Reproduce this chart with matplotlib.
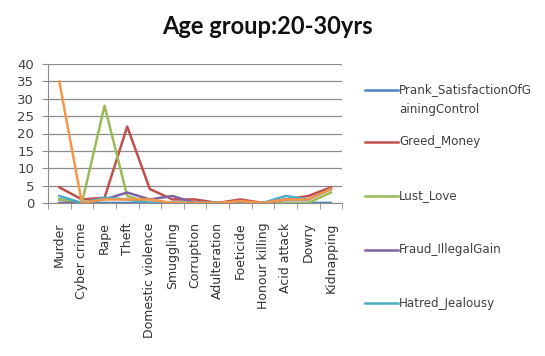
import matplotlib
matplotlib.use('Agg')
import matplotlib.pyplot as plt
from matplotlib.lines import Line2D

plt.rcParams['font.family'] = ['Lato', 'DejaVu Sans']

crimes = ['Murder', 'Cyber crime', 'Rape', 'Theft', 'Domestic violence', 'Smuggling',
          'Corruption', 'Adulteration', 'Foeticide', 'Honour killing', 'Acid attack',
          'Dowry', 'Kidnapping']

# motive counts per crime, age group 20-30
prank = [1, 0, 0, 0, 0, 0, 0, 0, 0, 0, 0, 0, 0]
greed = [4.5, 1, 1.5, 22, 4, 1, 1, 0, 1, 0, 1, 2, 4.5]
lust = [1, 0, 28, 2, 0, 0, 0, 0, 0, 0, 0, 0, 3]
fraud = [0, 0, 1, 3, 1, 2, 0, 0, 0, 0, 1, 1, 4]
hatred = [2, 0, 1.5, 1, 0, 0, 0, 0, 0, 0, 2, 1, 4]
anger = [35, 0, 1, 1, 1, 0, 0, 0, 0.5, 0, 1, 1, 4]

series = [
    ('Prank_SatisfactionOfG\nainingControl', prank, '#4F81BD'),
    ('Greed_Money', greed, '#C0504D'),
    ('Lust_Love', lust, '#9BBB59'),
    ('Fraud_IllegalGain', fraud, '#8064A2'),
    ('Hatred_Jealousy', hatred, '#4BACC6'),
]

fig = plt.figure(figsize=(5.45, 3.56), dpi=100)
ax = fig.add_axes([0.088, 0.430, 0.540, 0.390])

x = list(range(len(crimes)))
for name, vals, col in series:
    ax.plot(x, vals, color=col, lw=1.8, solid_joinstyle='round')
ax.plot(x, anger, color='#F79646', lw=1.8, solid_joinstyle='round')

ax.set_xlim(-0.5, len(crimes) - 0.5)
ax.set_ylim(0, 40)
ax.set_yticks(range(0, 41, 5))
ax.yaxis.grid(True, color='#8c8c8c', lw=0.9)
ax.set_axisbelow(True)

ax.set_xticks(x)
ax.set_xticklabels(crimes, rotation=90, fontsize=9, color='#333333',
                   family='DejaVu Sans')
ax.set_xticks([i - 0.5 for i in range(len(crimes) + 1)], minor=True)
ax.tick_params(axis='x', which='major', length=0, pad=14)
ax.tick_params(axis='x', which='minor', length=4, color='#8c8c8c', direction='out')
ax.tick_params(axis='y', length=4, color='#8c8c8c', labelsize=9.5, labelcolor='#444444',
               pad=6)
for lbl in ax.get_yticklabels():
    lbl.set_family('DejaVu Sans')

for s in ['top', 'right']:
    ax.spines[s].set_visible(False)
ax.spines['left'].set_color('#8c8c8c')
ax.spines['bottom'].set_color('#8c8c8c')

fig.text(267.5 / 545, 1 - 26 / 356, 'Age group:20-30yrs', ha='center', va='center',
         fontsize=17, fontweight='bold', color='#111111')

# legend drawn by hand so the wrapped first entry lines up like the original
legend_y = [90, 142, 196, 250, 303]
for (name, vals, col), ypx in zip(series, legend_y):
    yf = 1 - ypx / 356
    fig.add_artist(Line2D([365 / 545, 398 / 545], [yf, yf], color=col, lw=1.8,
                          transform=fig.transFigure))
    if '\n' in name:
        fig.text(399 / 545, 1 - (ypx - 7) / 356, name, ha='left', va='top',
                 fontsize=8.6, color='#404040', linespacing=1.75, family='DejaVu Sans')
    else:
        fig.text(399 / 545, yf, name, ha='left', va='center',
                 fontsize=8.6, color='#404040', family='DejaVu Sans')

fig.savefig('out.png', dpi=100, facecolor='white')
